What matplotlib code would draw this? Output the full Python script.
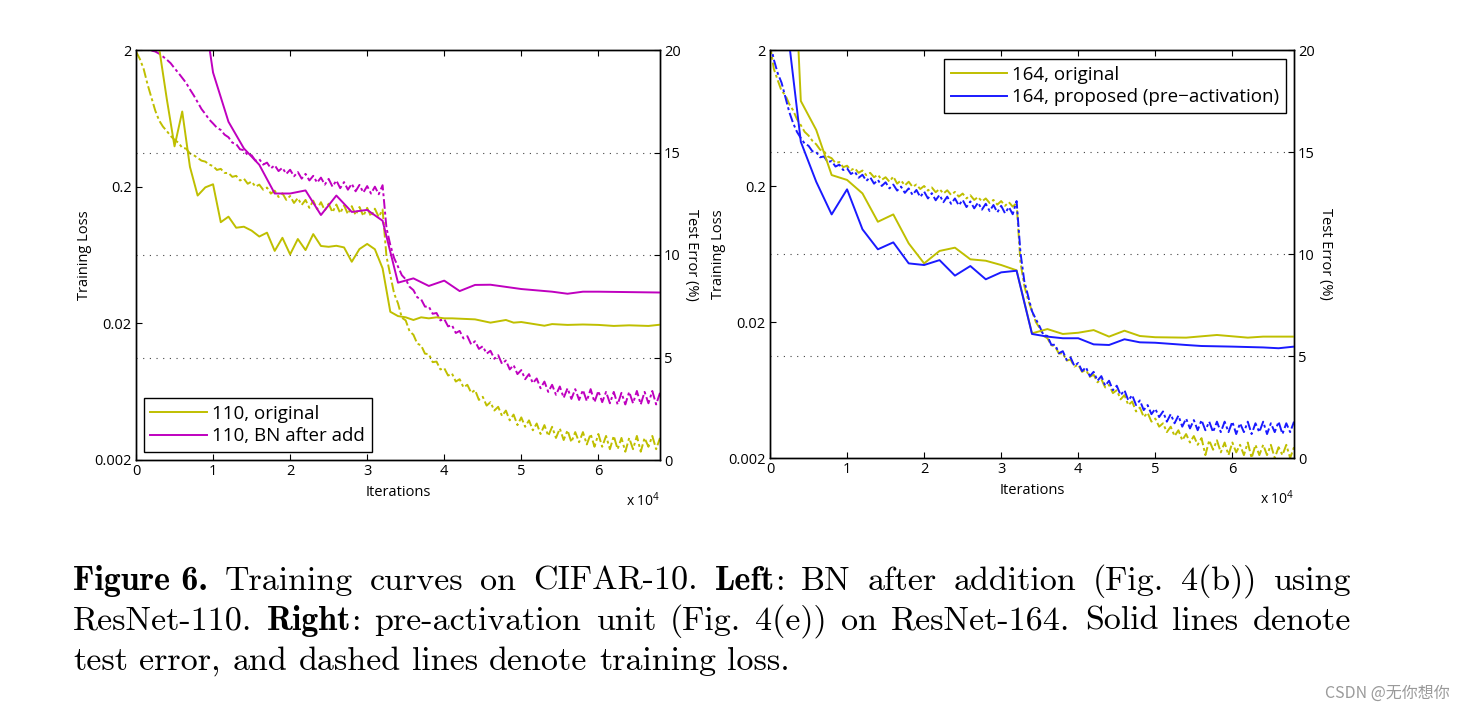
import numpy as np
import matplotlib
matplotlib.use('Agg')
import matplotlib.pyplot as plt
from matplotlib.ticker import NullLocator

plt.rcParams['font.family'] = ['Open Sans', 'DejaVu Sans']
plt.rcParams['mathtext.default'] = 'regular'

# training loss, sampled every 500 iterations (0 .. 68000)
loss_iters = np.arange(0, 68001, 500)

loss_110_orig = [
    1.95, 1.72, 1.45, 1.12, 0.90, 0.72, 0.61, 0.55, 0.51, 0.47,
    0.44, 0.42, 0.385, 0.38, 0.35, 0.34, 0.325, 0.31, 0.305, 0.29,
    0.283, 0.265, 0.27, 0.252, 0.252, 0.236, 0.24, 0.222, 0.229, 0.21,
    0.218, 0.2, 0.207, 0.19, 0.197, 0.178, 0.187, 0.168, 0.179, 0.16,
    0.171, 0.152, 0.165, 0.147, 0.16, 0.14, 0.158, 0.137, 0.154, 0.134,
    0.15, 0.13, 0.148, 0.128, 0.146, 0.126, 0.144, 0.124, 0.142, 0.122,
    0.14, 0.121, 0.138, 0.12, 0.136, 0.062, 0.045, 0.033, 0.028, 0.022,
    0.021, 0.0175, 0.0165, 0.0142, 0.0138, 0.012, 0.0119, 0.0104, 0.0105, 0.0092,
    0.0094, 0.0083, 0.0086, 0.0075, 0.0078, 0.0068, 0.0071, 0.0062, 0.0065, 0.0055,
    0.0058, 0.005, 0.0053, 0.0046, 0.0049, 0.0042, 0.0046, 0.0039, 0.0043, 0.0036,
    0.0041, 0.0035, 0.0039, 0.0033, 0.0037, 0.0031, 0.0036, 0.003, 0.0035, 0.0029,
    0.0034, 0.0028, 0.0033, 0.0027, 0.0032, 0.0027, 0.0032, 0.0026, 0.0031, 0.0025,
    0.0031, 0.0025, 0.003, 0.0024, 0.003, 0.0024, 0.0029, 0.0023, 0.0029, 0.0024,
    0.003, 0.0023, 0.0029, 0.0025, 0.003, 0.0024, 0.0029]

loss_110_bn = [
    2.3, 2.15, 2.05, 2.0, 1.98, 1.95, 1.88, 1.79, 1.7, 1.6,
    1.47, 1.36, 1.25, 1.15, 1.03, 0.93, 0.83, 0.74, 0.68, 0.62,
    0.58, 0.54, 0.52, 0.48, 0.46, 0.42, 0.41, 0.375, 0.37, 0.34,
    0.34, 0.31, 0.318, 0.29, 0.3, 0.272, 0.287, 0.26, 0.275, 0.248,
    0.266, 0.238, 0.256, 0.229, 0.248, 0.222, 0.24, 0.214, 0.233, 0.207,
    0.228, 0.2, 0.222, 0.195, 0.216, 0.19, 0.21, 0.185, 0.206, 0.181,
    0.202, 0.178, 0.2, 0.176, 0.205, 0.1, 0.075, 0.06, 0.052, 0.045,
    0.042, 0.037, 0.035, 0.031, 0.03, 0.0265, 0.0265, 0.0235, 0.0238, 0.021,
    0.0215, 0.019, 0.0194, 0.017, 0.0176, 0.0155, 0.0161, 0.014, 0.0148, 0.013,
    0.0136, 0.012, 0.0126, 0.011, 0.0117, 0.0101, 0.0107, 0.0092, 0.0099, 0.0085,
    0.0091, 0.0078, 0.0085, 0.0073, 0.0079, 0.0067, 0.0075, 0.0063, 0.0071, 0.006,
    0.0069, 0.0057, 0.0067, 0.0056, 0.0066, 0.0055, 0.0065, 0.0054, 0.0066, 0.0053,
    0.0064, 0.0053, 0.0063, 0.0052, 0.0063, 0.0051, 0.0062, 0.0051, 0.0063, 0.0052,
    0.0064, 0.0051, 0.0063, 0.0052, 0.0064, 0.0051, 0.0062]

loss_164_orig = [
    2.2, 1.45, 1.2, 1.0, 0.93, 0.8, 0.72, 0.62, 0.56, 0.5,
    0.47, 0.43, 0.405, 0.37, 0.36, 0.33, 0.32, 0.295, 0.3, 0.275,
    0.282, 0.262, 0.27, 0.25, 0.26, 0.24, 0.25, 0.232, 0.242, 0.222,
    0.232, 0.215, 0.235, 0.208, 0.22, 0.202, 0.215, 0.197, 0.205, 0.19,
    0.2, 0.185, 0.195, 0.18, 0.19, 0.176, 0.186, 0.172, 0.181, 0.167,
    0.176, 0.162, 0.171, 0.158, 0.166, 0.154, 0.162, 0.15, 0.158, 0.146,
    0.155, 0.143, 0.152, 0.141, 0.15, 0.055, 0.037, 0.029, 0.024, 0.02,
    0.018, 0.0158, 0.0152, 0.0135, 0.0132, 0.0117, 0.0118, 0.0104, 0.0106, 0.0094,
    0.0097, 0.0086, 0.0089, 0.0079, 0.0082, 0.0072, 0.0076, 0.0066, 0.0069, 0.006,
    0.0063, 0.0054, 0.0058, 0.0049, 0.0052, 0.0044, 0.0047, 0.004, 0.0043, 0.0037,
    0.0039, 0.0034, 0.0036, 0.0031, 0.0034, 0.0029, 0.0032, 0.0027, 0.003, 0.0026,
    0.0029, 0.0025, 0.0028, 0.0021, 0.0027, 0.0023, 0.0027, 0.0022, 0.0026, 0.0021,
    0.0026, 0.0022, 0.0025, 0.0021, 0.0026, 0.002, 0.0025, 0.0021, 0.0025, 0.0021,
    0.0025, 0.002, 0.0024, 0.0021, 0.0025, 0.002, 0.0024]

loss_164_pre = [
    2.3, 1.7, 1.35, 1.15, 0.9, 0.7, 0.58, 0.5, 0.45, 0.41,
    0.395, 0.36, 0.355, 0.325, 0.33, 0.3, 0.305, 0.278, 0.287, 0.262,
    0.27, 0.245, 0.255, 0.23, 0.242, 0.218, 0.232, 0.208, 0.222, 0.2,
    0.213, 0.192, 0.205, 0.185, 0.198, 0.178, 0.192, 0.172, 0.187, 0.166,
    0.182, 0.162, 0.177, 0.157, 0.172, 0.152, 0.167, 0.148, 0.162, 0.144,
    0.158, 0.14, 0.154, 0.137, 0.151, 0.134, 0.148, 0.131, 0.145, 0.128,
    0.143, 0.126, 0.14, 0.124, 0.155, 0.065, 0.04, 0.031, 0.024, 0.021,
    0.0185, 0.016, 0.0158, 0.0136, 0.0136, 0.0118, 0.0122, 0.0105, 0.011, 0.0095,
    0.01, 0.0087, 0.0093, 0.008, 0.0086, 0.0074, 0.008, 0.0068, 0.0074, 0.0063,
    0.0068, 0.0058, 0.0063, 0.0053, 0.0058, 0.0049, 0.0053, 0.0045, 0.0049, 0.0042,
    0.0046, 0.004, 0.0044, 0.0037, 0.0042, 0.0036, 0.0041, 0.0034, 0.0039, 0.0033,
    0.0038, 0.0032, 0.0038, 0.0032, 0.0037, 0.0031, 0.0037, 0.0031, 0.0037, 0.0031,
    0.0037, 0.003, 0.0036, 0.0031, 0.0037, 0.003, 0.0036, 0.0031, 0.0037, 0.003,
    0.0036, 0.0031, 0.0037, 0.003, 0.0036, 0.0031, 0.0037]

# test error (%)
err_110_orig_it = [2000, 3000, 4000, 5000, 6000, 7000, 8000, 9000, 10000, 11000,
                   12000, 13000, 14000, 15000, 16000, 17000, 18000, 19000, 20000, 21000,
                   22000, 23000, 24000, 25000, 26000, 27000, 28000, 29000, 30000, 31000,
                   32000, 33000, 34000, 35000, 36000, 37000, 38000, 39000, 40000, 41000,
                   44000, 46000, 48000, 49000, 50000, 51000, 53000, 54000, 56000, 58000,
                   60000, 62000, 64000, 66500, 68000]
err_110_orig = [24.0, 20.1, 17.6, 15.3, 17.0, 14.3, 12.9, 13.3, 13.45, 11.6,
                11.87, 11.33, 11.38, 11.19, 10.9, 11.09, 10.2, 10.84, 10.03, 10.78,
                10.24, 11.02, 10.44, 10.4, 10.45, 10.37, 9.67, 10.29, 10.54, 10.28,
                9.35, 7.23, 7.02, 6.96, 6.83, 6.96, 6.91, 6.96, 6.91, 6.91,
                6.86, 6.7, 6.83, 6.7, 6.73, 6.67, 6.55, 6.63, 6.59, 6.61,
                6.59, 6.54, 6.57, 6.54, 6.6]

err_110_bn_it = [8000, 10000, 12000, 14000, 16000, 18000, 20000, 22000, 24000, 26000,
                 28000, 30000, 32000, 34000, 36000, 38000, 40000, 42000, 44000, 46000,
                 50000, 54000, 56000, 58000, 60000, 64000, 68000]
err_110_bn = [24.0, 18.9, 16.5, 15.2, 14.4, 13.0, 13.0, 13.15, 11.95, 12.9,
              12.1, 12.2, 11.67, 8.65, 8.86, 8.49, 8.75, 8.24, 8.54, 8.55,
              8.34, 8.21, 8.11, 8.21, 8.21, 8.19, 8.17]

err_164_orig_it = [2000, 4000, 6000, 8000, 10000, 12000, 14000, 16000, 18000, 20000,
                   22000, 24000, 26000, 28000, 30000, 32000, 34000, 36000, 38000, 40000,
                   42000, 44000, 46000, 48000, 50000, 54000, 58000, 62000, 64000, 68000]
err_164_orig = [34.0, 17.5, 16.08, 13.87, 13.63, 12.97, 11.58, 11.94, 10.52, 9.54,
                10.15, 10.31, 9.74, 9.67, 9.46, 9.2, 6.11, 6.32, 6.08, 6.14,
                6.27, 5.95, 6.24, 5.98, 5.92, 5.9, 6.03, 5.9, 5.95, 5.95]

err_164_pre_it = [2000, 4000, 6000, 8000, 10000, 12000, 14000, 16000, 18000, 20000,
                  22000, 24000, 26000, 28000, 30000, 32000, 34000, 36000, 38000, 40000,
                  42000, 44000, 46000, 48000, 50000, 54000, 56000, 60000, 64000, 66000,
                  68000]
err_164_pre = [21.9, 15.5, 13.54, 11.94, 13.17, 11.21, 10.23, 10.57, 9.54, 9.46,
               9.7, 8.94, 9.41, 8.76, 9.1, 9.18, 6.08, 5.95, 5.87, 5.87,
               5.57, 5.54, 5.82, 5.67, 5.65, 5.54, 5.49, 5.46, 5.42, 5.38,
               5.46]

olive = '#bfbf00'
magenta = '#bf00bf'
blue = '#1a1aff'
dash = (0, (5, 1.5, 1.5, 1.5))

fig = plt.figure(figsize=(14.65, 7.09), dpi=100)
W, H = 1465, 709


def panel(rect, loss_a, loss_b, err_a_it, err_a, err_b_it, err_b, col_b, labels, loc, anchor):
    ax = fig.add_axes(rect)
    ax.set_yscale('log')
    ax.plot(loss_iters, loss_a, color=olive, ls=dash, lw=1.4)
    ax.plot(loss_iters, loss_b, color=col_b, ls=dash, lw=1.4)
    ax.set_xlim(0, 68000)
    ax.set_ylim(0.002, 2)
    ax.set_yticks([0.002, 0.02, 0.2, 2])
    ax.set_yticklabels(['0.002', '0.02', '0.2', '2'])
    ax.yaxis.set_minor_locator(NullLocator())
    ax.set_xticks(range(0, 60001, 10000))
    ax.set_xticklabels([str(i) for i in range(7)])
    ax.tick_params(direction='in', length=4, labelsize=10.5, top=True, pad=3)
    ax.set_ylabel('Training Loss', fontsize=10.5)
    ax.yaxis.set_label_coords(-0.084, 0.5)
    ax.set_xlabel('Iterations', fontsize=10.5)
    ax.xaxis.set_label_coords(0.5, -0.062)
    ax.text(1.0, -0.113, r'x 10$^4$', transform=ax.transAxes, ha='right',
            va='baseline', fontsize=10)

    ax2 = ax.twinx()
    la, = ax2.plot(err_a_it, err_a, color=olive, lw=1.4)
    lb, = ax2.plot(err_b_it, err_b, color=col_b, lw=1.4)
    ax2.set_ylim(0, 20)
    ax2.set_yticks([0, 5, 10, 15, 20])
    ax2.tick_params(direction='in', length=4, labelsize=10.5, pad=3)
    for v in (5, 10, 15):
        ax2.axhline(v, color='#444444', lw=0.8, ls=(0, (1, 5)), zorder=0)
    ax2.set_ylabel('Test Error (%)', fontsize=10.5, rotation=270, va='center')
    ax2.yaxis.set_label_coords(1.06, 0.5)
    leg = ax2.legend([la, lb], labels, loc=loc, bbox_to_anchor=anchor,
                     borderaxespad=0, fancybox=False, edgecolor='black',
                     framealpha=1, fontsize=13.5, handlelength=3.0,
                     handletextpad=0.3, labelspacing=0.25, borderpad=0.35)
    leg.get_frame().set_linewidth(1.0)
    for a in (ax, ax2):
        for s in a.spines.values():
            s.set_linewidth(1.0)


panel([136 / W, 1 - 460 / H, 524 / W, 410 / H],
      loss_110_orig, loss_110_bn, err_110_orig_it, err_110_orig,
      err_110_bn_it, err_110_bn, magenta,
      ['110, original', '110, BN after add'], 'lower left', (0.015, 0.02))
panel([770 / W, 1 - 458 / H, 524 / W, 408 / H],
      loss_164_orig, loss_164_pre, err_164_orig_it, err_164_orig,
      err_164_pre_it, err_164_pre, blue,
      ['164, original', '164, proposed (pre\u2212activation)'], 'upper right', (0.985, 0.978))

# caption, justified between x0 and x1 (pixels)
caption = [
    "*Figure_6. Training curves on CIFAR-10. *Left|: BN after addition (Fig. 4(b)) using",
    "ResNet-110. *Right|: pre-activation unit (Fig. 4(e)) on ResNet-164. Solid lines denote",
    "test error, and dashed lines denote training loss.",
]
baselines = [590, 630, 670]
x0, x1 = 73, 1351
cap_size = 24.5
renderer = fig.canvas.get_renderer()


def seg_width(s, fam):
    t = fig.text(0, 0, s, family=fam, fontsize=cap_size)
    w = t.get_window_extent(renderer).width
    t.remove()
    return w


space_w = seg_width('a a', 'cmr10') - seg_width('aa', 'cmr10')
for li, line in enumerate(caption):
    words = []
    for w in line.split(' '):
        if w.startswith('*'):
            parts = w[1:].split('|')
            segs = [(parts[0].replace('_', ' '), 'cmb10')]
            if len(parts) > 1:
                segs.append((parts[1], 'cmr10'))
        else:
            segs = [(w, 'cmr10')]
        words.append([(s, f, seg_width(s, f)) for s, f in segs])
    total = sum(sum(s[2] for s in wd) for wd in words)
    if li < len(caption) - 1:
        gap = (x1 - x0 - total) / (len(words) - 1)
    else:
        gap = space_w
    x = x0
    y = 1 - baselines[li] / H
    for wd in words:
        for s, f, w in wd:
            fig.text(x / W, y, s, family=f, fontsize=cap_size, va='baseline', ha='left')
            x += w
        x += gap

fig.text(1450 / W, 1 - 698 / H, 'CSDN @无你想你', family=['Noto Sans CJK SC', 'DejaVu Sans'],
         fontsize=11.5, color='#9a9a9a', ha='right', va='baseline')

fig.savefig('out.png', dpi=100)
